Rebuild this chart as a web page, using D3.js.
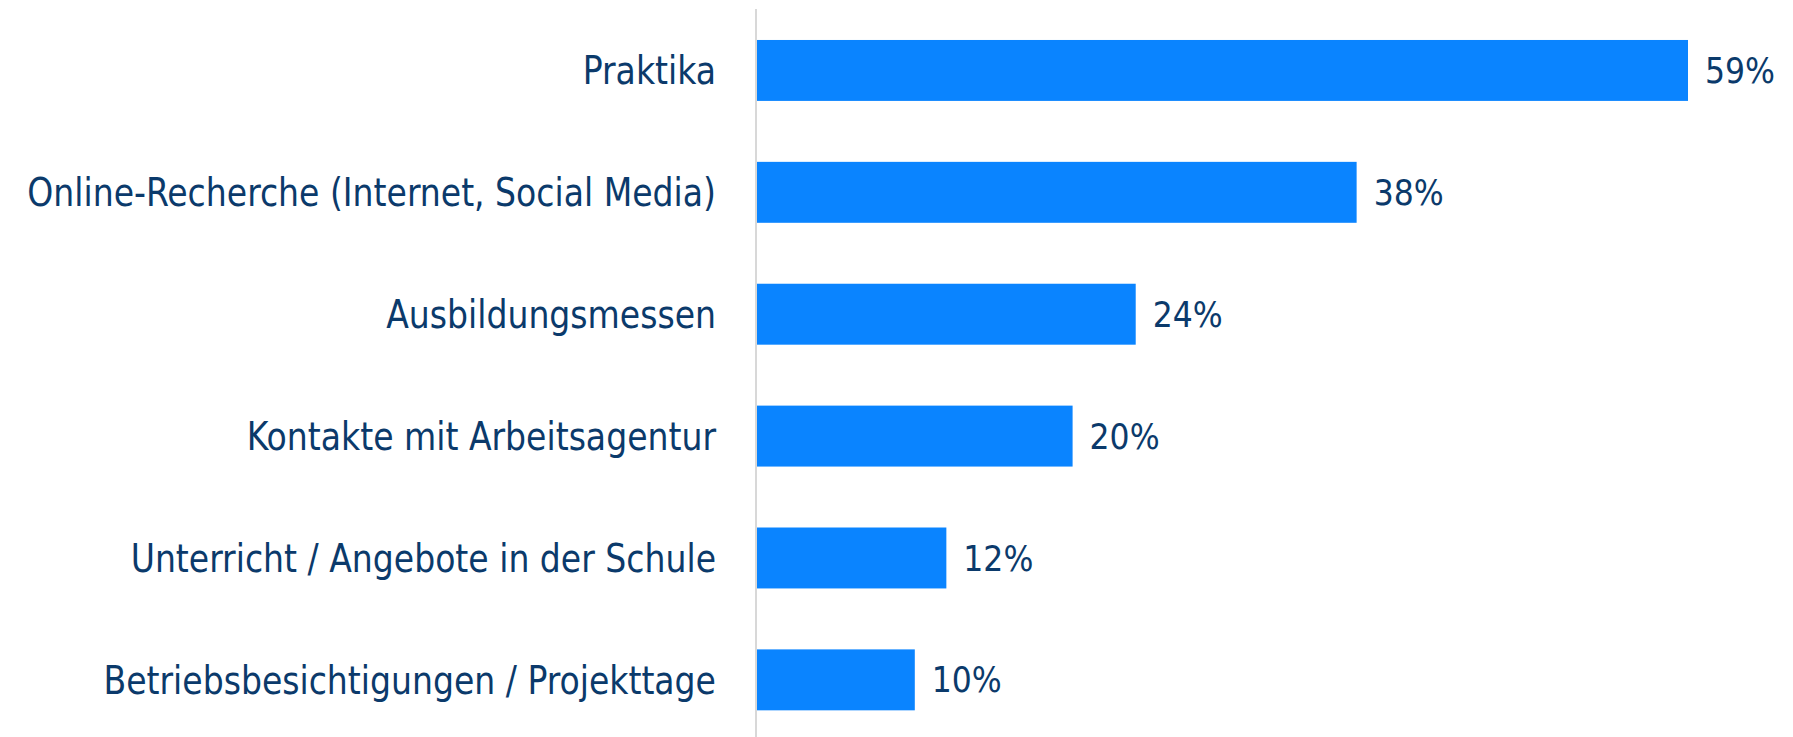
<!DOCTYPE html>
<html>
<head>
<meta charset="utf-8">
<script src="https://cdn.jsdelivr.net/npm/d3@7"></script>
<style>
    body { margin: 0; background: #fff; }
    svg text { font-family: "DejaVu Sans Condensed", "Liberation Sans Narrow", sans-serif; fill: #0b3a6b; }
</style>
</head>
<body>
<svg id="chart" width="1793" height="737"></svg>
<script>
var categories = [
    'Praktika',
    'Online-Recherche (Internet, Social Media)',
    'Ausbildungsmessen',
    'Kontakte mit Arbeitsagentur',
    'Unterricht / Angebote in der Schule',
    'Betriebsbesichtigungen / Projekttage'
];
var values = [59, 38, 24, 20, 12, 10];

var svg = d3.select('#chart'),
    axisX = 757,
    me = {};

me.xScale = d3.scaleLinear()
    .domain([0, 59])
    .range([axisX, 1688]);

me.yScale = d3.scaleBand()
    .domain(categories)
    .range([9.5, 740.8])
    .paddingInner(0.5)
    .paddingOuter(0.25);

var rows = categories.map(function (c, i) {
    return {name: c, value: values[i]};
});

// bars
svg.append('g').selectAll('rect').data(rows).enter().append('rect')
    .attr('x', me.xScale(0))
    .attr('y', function (d) { return me.yScale(d.name); })
    .attr('width', function (d) { return me.xScale(d.value) - me.xScale(0); })
    .attr('height', me.yScale.bandwidth())
    .style('fill', '#0a84ff');

// axis line on the left of the bars
svg.append('line')
    .attr('x1', axisX - 1).attr('x2', axisX - 1)
    .attr('y1', 9).attr('y2', 737)
    .style('stroke', '#d8d8d8')
    .style('stroke-width', 2);

// category labels (squeezed a bit, the original font is narrower)
svg.append('g').selectAll('text').data(rows).enter().append('text')
    .attr('x', axisX - 41)
    .attr('y', function (d) { return me.yScale(d.name) + me.yScale.bandwidth() / 2; })
    .attr('dy', '0.36em')
    .attr('text-anchor', 'end')
    .style('font-size', '38.5px')
    .text(function (d) { return d.name; })
    .each(function () {
        var w = this.getComputedTextLength();
        d3.select(this)
            .attr('textLength', w * 0.955)
            .attr('lengthAdjust', 'spacingAndGlyphs');
    });

// value labels
svg.append('g').selectAll('text').data(rows).enter().append('text')
    .attr('x', function (d) { return me.xScale(d.value) + 17; })
    .attr('y', function (d) { return me.yScale(d.name) + me.yScale.bandwidth() / 2; })
    .attr('dy', '0.36em')
    .style('font-size', '35px')
    .text(function (d) { return d.value + '%'; });
</script>
</body>
</html>
